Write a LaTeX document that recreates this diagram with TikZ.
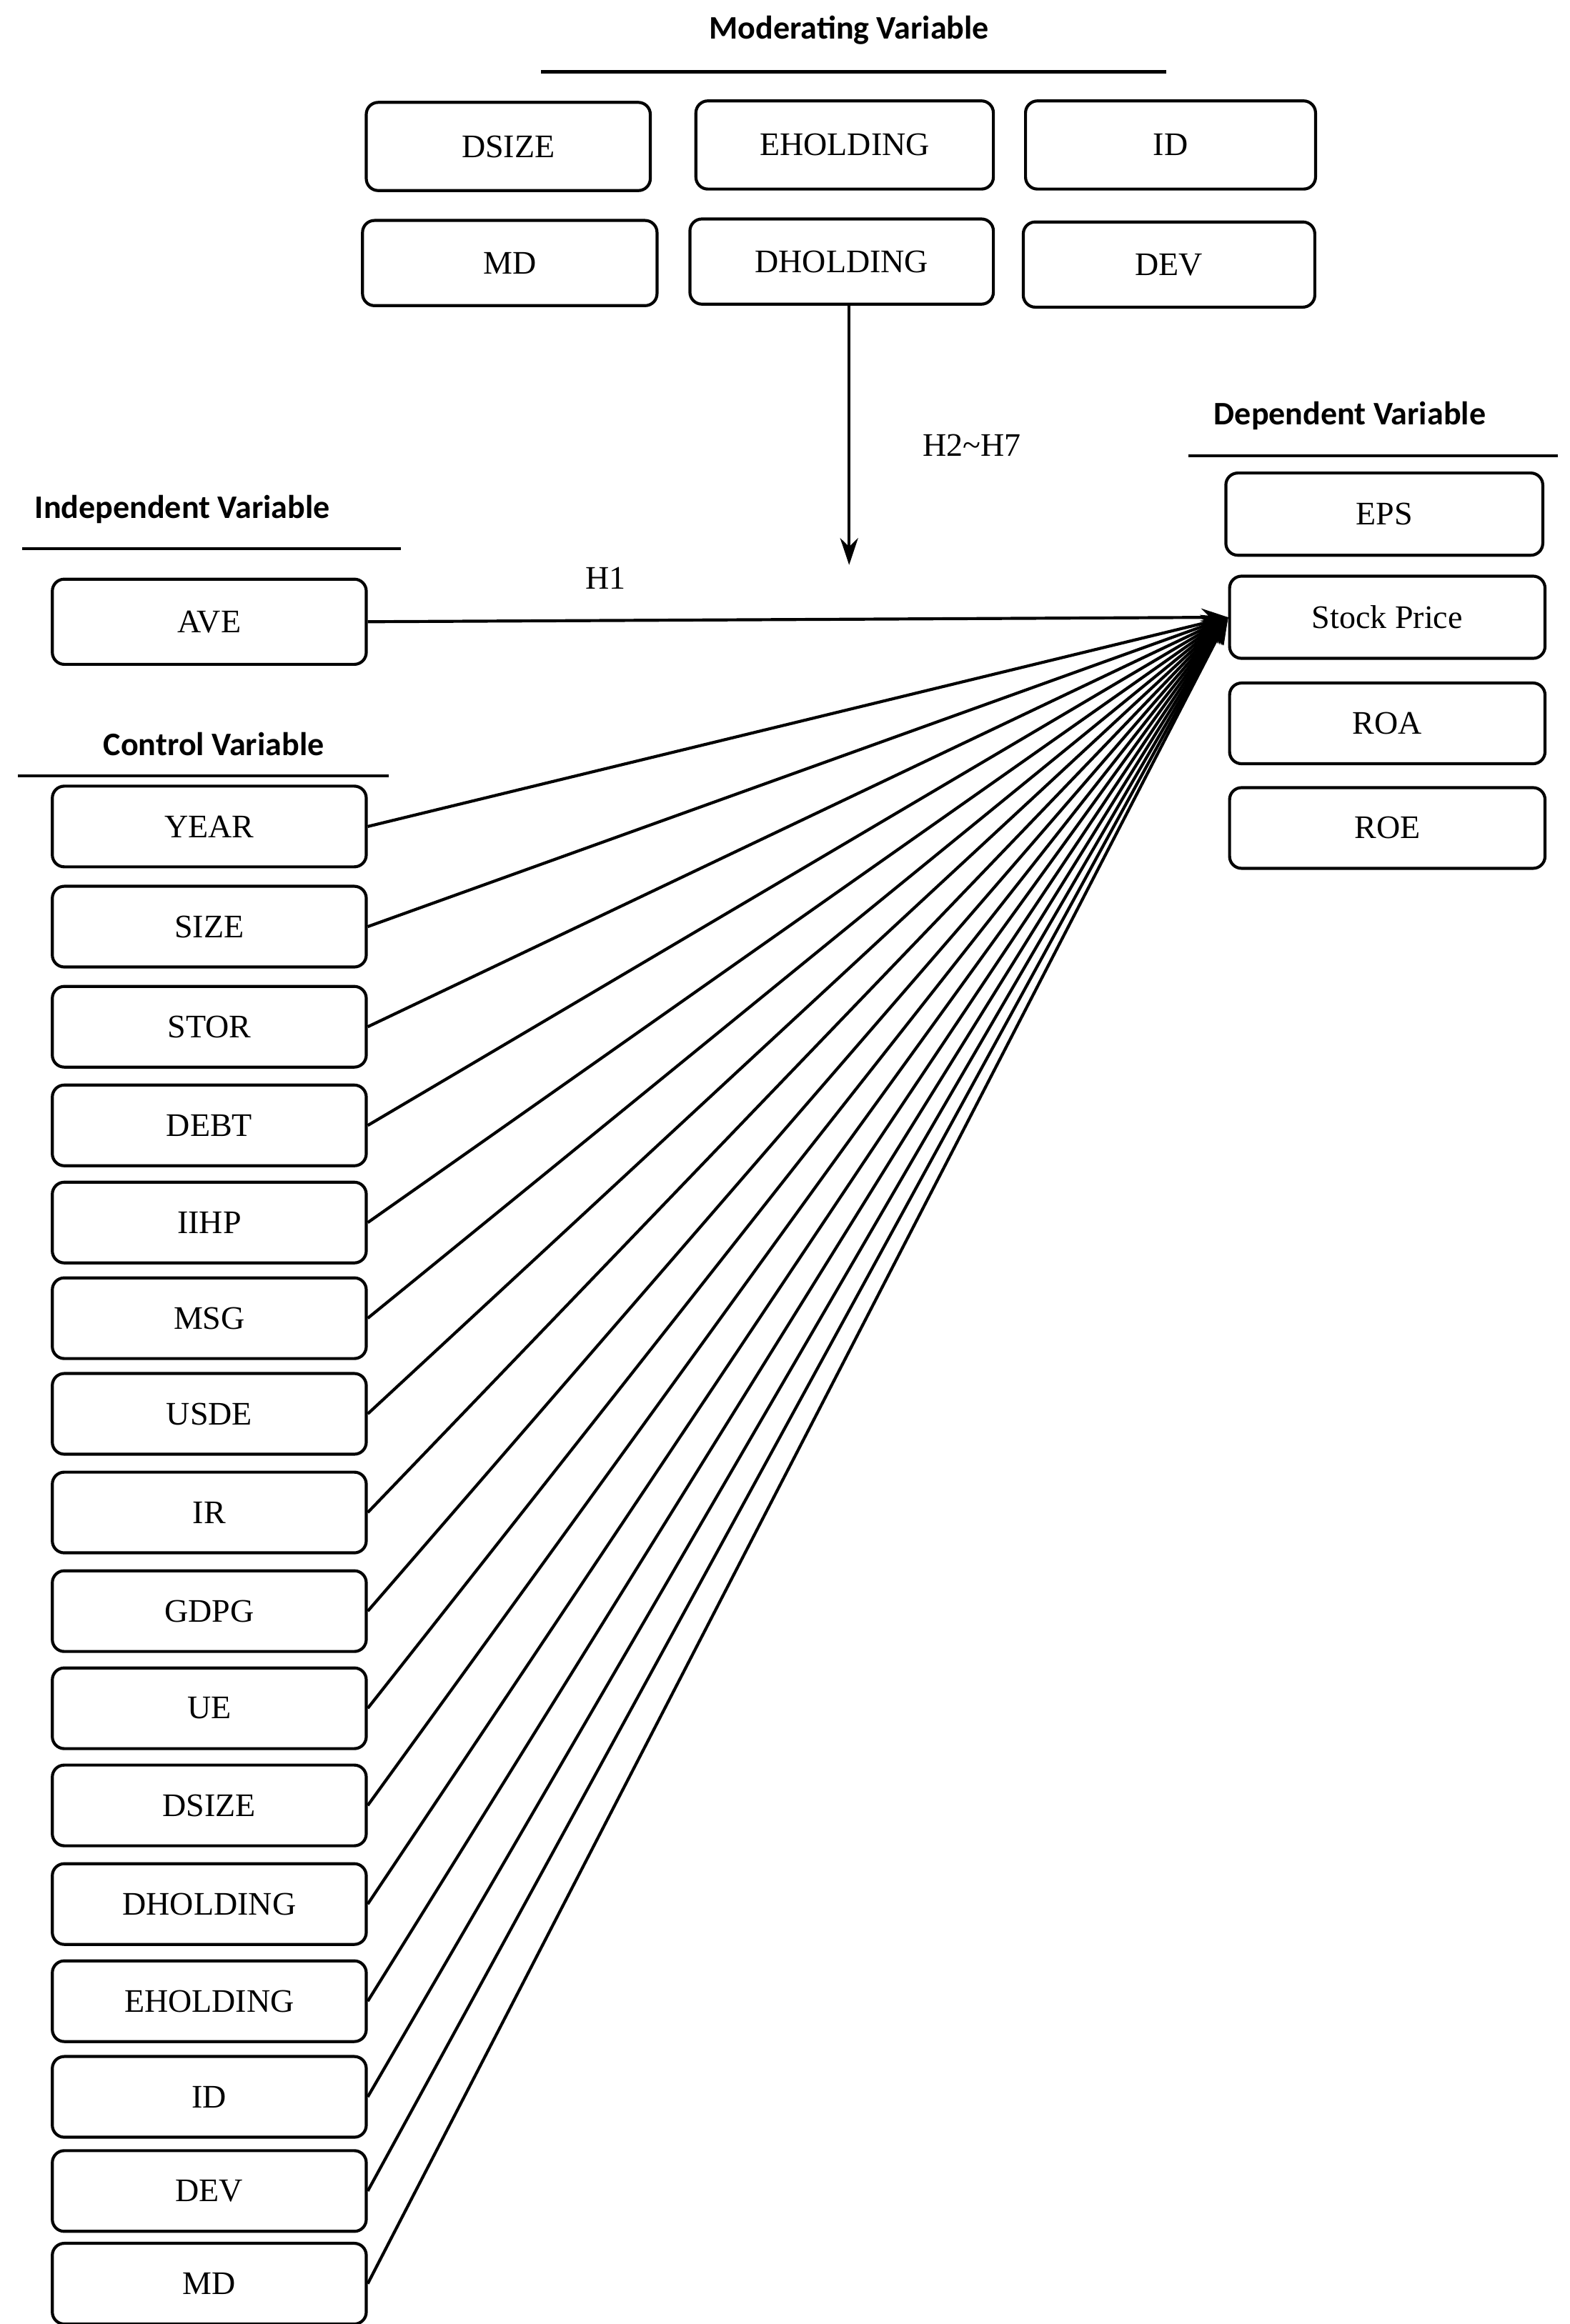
\documentclass[tikz,border=0pt]{standalone}
\usepackage{fontspec}
\setmainfont{Liberation Serif}
\newfontfamily\hfont{Carlito}
\usetikzlibrary{arrows.meta}
\begin{document}
\begin{tikzpicture}[x=0.5pt,y=-0.5pt,
  bx/.style={draw,line width=1pt,rounded corners=4pt,inner sep=0pt,font=\fontsize{11}{13}\selectfont},
  hd/.style={font=\hfont\bfseries\fontsize{11}{13}\selectfont},
  ln/.style={line width=1pt},
  ar/.style={line width=1pt,-{Stealth[length=9pt,width=6pt]}}]
\useasboundingbox (0,0) rectangle (1050,1555);
\newcommand{\bxat}[6]{\node[bx,minimum width=#3*0.5pt,minimum height=#4*0.5pt] (#5) at (#1,#2) {#6};}
% moderating
\node[hd] (hm) at (568,20) {Moderating Variable};
\draw[ln] (362,48) -- (780,48);
\bxat{340}{98}{190}{59}{m1}{DSIZE}
\bxat{565}{97}{199}{59}{m2}{EHOLDING}
\bxat{783}{97}{194}{59}{m3}{ID}
\bxat{341}{176}{197}{57}{m4}{MD}
\bxat{563}{175}{203}{57}{m5}{DHOLDING}
\bxat{782}{177}{195}{57}{m6}{DEV}
\coordinate (mt) at (568,378);
\draw[ar] (m5.south -| mt) -- (mt);
\node[font=\fontsize{11}{13}\selectfont] (h27) at (650,298) {H2\textasciitilde H7};
% dependent
\node[hd] (hdv) at (903,278) {Dependent Variable};
\draw[ln] (795,305) -- (1042,305);
\bxat{926}{344}{212}{55}{d1}{EPS}
\bxat{928}{413}{211}{55}{sp}{Stock Price}
\bxat{928}{484}{211}{54}{d3}{ROA}
\bxat{928}{554}{211}{54}{d4}{ROE}
% independent
\node[hd] (hiv) at (122,341) {Independent Variable};
\draw[ln] (15,367) -- (268,367);
\bxat{140}{416}{210}{57}{ave}{AVE}
\draw[ar] (ave.east) -- (sp.west);
\node[font=\fontsize{11}{13}\selectfont] (h1) at (405,387) {H1};
% control
\node[hd] (hcv) at (143,498) {Control Variable};
\draw[ln] (12,519) -- (260,519);
\foreach \n/\y/\t in {c1/553/YEAR,c2/620/SIZE,c3/687/STOR,c4/753/DEBT,c5/818/IIHP,c6/882/MSG,c7/946/USDE,c8/1012/IR,c9/1078/GDPG,c10/1143/UE,c11/1208/DSIZE,c12/1274/DHOLDING,c13/1339/EHOLDING,c14/1403/ID,c15/1466/DEV,c16/1528/MD}{
  \node[bx,minimum width=105pt,minimum height=27pt] (\n) at (140,\y) {\t};
  \draw[ar] (\n.east) -- (sp.west);
}
\end{tikzpicture}
\end{document}
